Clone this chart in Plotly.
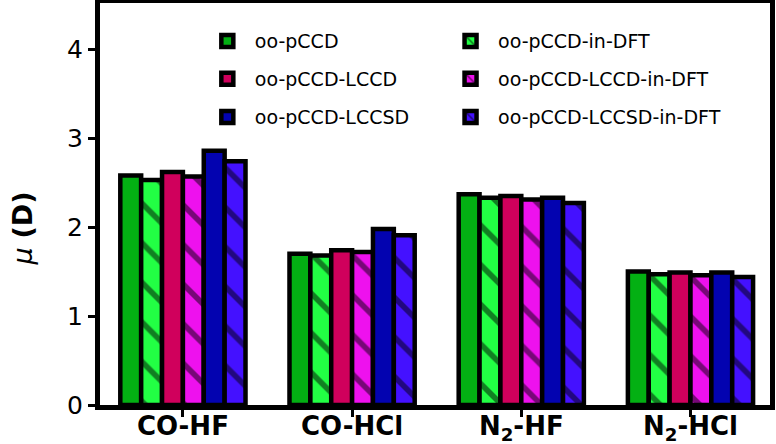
import plotly.graph_objects as go

categories = ["CO-HF", "CO-HCl", "N<sub>2</sub>-HF", "N<sub>2</sub>-HCl"]

series_names = ["oo-pCCD", "oo-pCCD-in-DFT", "oo-pCCD-LCCD", "oo-pCCD-LCCD-in-DFT",
                "oo-pCCD-LCCSD", "oo-pCCD-LCCSD-in-DFT"]
oo_pccd = [2.58, 1.70, 2.37, 1.50]
oo_pccd_dft = [2.53, 1.68, 2.33, 1.47]
oo_lccd = [2.62, 1.74, 2.35, 1.49]
oo_lccd_dft = [2.57, 1.72, 2.31, 1.46]
oo_lccsd = [2.86, 1.98, 2.33, 1.49]
oo_lccsd_dft = [2.74, 1.91, 2.27, 1.44]
series_values = [oo_pccd, oo_pccd_dft, oo_lccd, oo_lccd_dft, oo_lccsd, oo_lccsd_dft]

colors = ["#03B013", "#22FF44", "#D0005C", "#EE11EE", "#0303B0", "#4411FF"]
hatched = [False, True, False, True, False, True]

# legend placement (paper coords): column x, row y
legend_x = [0.149, 0.512, 0.149, 0.512, 0.149, 0.512]
legend_y = [0.905, 0.905, 0.811, 0.811, 0.716, 0.716]

fig = go.Figure()
layout_legends = {}
for i, (name, vals, col, h) in enumerate(zip(series_names, series_values, colors, hatched)):
    marker = dict(color=col, line=dict(color="black", width=4.5))
    if h:
        marker["pattern"] = dict(shape="\\", fgcolor="black", bgcolor=col, size=28,
                                 solidity=0.2, fillmode="overlay")
    lname = "legend" if i == 0 else f"legend{i+1}"
    fig.add_trace(go.Bar(x=categories, y=vals, name=name, marker=marker, legend=lname))
    layout_legends[lname] = dict(x=legend_x[i], y=legend_y[i], xanchor="left", yanchor="middle",
                                 font=dict(size=19, family="DejaVu Sans", color="black"),
                                 bgcolor="rgba(0,0,0,0)", itemwidth=45)

fig.update_layout(
    width=776, height=444,
    margin=dict(l=100, r=6, t=3, b=39),
    plot_bgcolor="white", paper_bgcolor="white",
    barmode="group", bargap=0.26, bargroupgap=0,
    font=dict(family="DejaVu Sans", color="black"),
    showlegend=True,
    **layout_legends,
    annotations=[dict(text="<i>μ</i> <b>(D)</b>", textangle=-90, x=-0.116, y=0.44,
                      xref="paper", yref="paper", xanchor="center", yanchor="middle",
                      showarrow=False, font=dict(size=27, family="DejaVu Sans", color="black"))],
)
fig.update_xaxes(showline=True, linecolor="black", linewidth=5, mirror=True,
                 ticks="outside", ticklen=7, tickwidth=3, tickcolor="black",
                 tickfont=dict(size=26, family="DejaVu Sans", weight="bold"),
                 ticklabelstandoff=-13,
                 range=[-0.49, 3.47], automargin=False)
fig.update_yaxes(showline=True, linecolor="black", linewidth=5, mirror=True,
                 ticks="outside", ticklen=7, tickwidth=3, tickcolor="black",
                 tickfont=dict(size=25, family="DejaVu Sans"),
                 range=[0, 4.52], tickvals=[0, 1, 2, 3, 4], showgrid=False, zeroline=False,
                 automargin=False)
fig.write_html("out.html", post_script="document.body.style.margin='0';",
               config={"displayModeBar": False})
